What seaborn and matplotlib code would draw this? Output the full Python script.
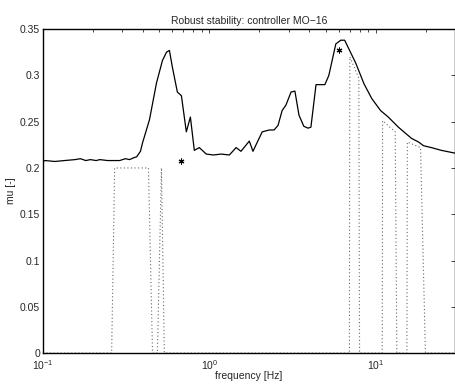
import numpy as np
import pandas as pd
import seaborn as sns
import matplotlib
matplotlib.use("Agg")
import matplotlib.pyplot as plt
from matplotlib.ticker import FuncFormatter, LogLocator

# upper bound of mu (solid line)
freq_upper = [0.1, 0.103, 0.118, 0.135, 0.156, 0.168, 0.181, 0.193, 0.209, 0.220,
              0.245, 0.27, 0.289, 0.314, 0.332, 0.351, 0.366, 0.386, 0.397, 0.437,
              0.482, 0.523, 0.553, 0.576, 0.600, 0.643, 0.680, 0.728, 0.770, 0.813,
              0.871, 0.959, 1.057, 1.18, 1.32, 1.45, 1.55, 1.74, 1.83, 2.08,
              2.29, 2.45, 2.59, 2.74, 2.89, 3.10, 3.27, 3.46, 3.70, 3.92,
              4.08, 4.38, 4.95, 5.23, 5.76, 6.17, 6.51, 7.6, 8.5, 9.47,
              10.7, 11.9, 13.7, 16.4, 18.1, 19.4, 21.6, 24.8, 30.0]
mu_upper = [0.207, 0.208, 0.207, 0.208, 0.209, 0.210, 0.208, 0.209, 0.208, 0.209,
            0.208, 0.208, 0.208, 0.210, 0.209, 0.211, 0.212, 0.218, 0.227, 0.252,
            0.292, 0.316, 0.325, 0.327, 0.309, 0.282, 0.278, 0.239, 0.255, 0.219,
            0.222, 0.215, 0.214, 0.215, 0.214, 0.222, 0.218, 0.229, 0.218, 0.239,
            0.241, 0.241, 0.246, 0.262, 0.268, 0.282, 0.283, 0.257, 0.245, 0.243,
            0.244, 0.290, 0.290, 0.300, 0.334, 0.338, 0.338, 0.313, 0.291, 0.275,
            0.262, 0.255, 0.244, 0.232, 0.228, 0.224, 0.222, 0.219, 0.216]

# lower bound of mu (dotted line)
freq_lower = [0.1, 0.259, 0.27, 0.431, 0.456, 0.488, 0.516, 0.537,
              6.95, 6.99, 7.92, 8.0, 10.95, 11.0, 13.1, 13.4,
              15.4, 15.5, 18.6, 19.9, 30.0]
mu_lower = [0.0, 0.0, 0.2, 0.2, 0.0, 0.0, 0.2, 0.0,
            0.0, 0.32, 0.297, 0.0, 0.0, 0.251, 0.239, 0.0,
            0.0, 0.228, 0.222, 0.0, 0.0]

# worst-case points (asterisks)
freq_star = [0.68, 6.0]
mu_star = [0.207, 0.327]

upper_df = pd.DataFrame({"freq": freq_upper, "mu": mu_upper})
lower_df = pd.DataFrame({"freq": freq_lower, "mu": mu_lower})
star_df = pd.DataFrame({"freq": freq_star, "mu": mu_star})

sns.set_style("white")
plt.rcParams['font.family'] = ['Liberation Sans', 'DejaVu Sans']
plt.rcParams['xtick.direction'] = 'in'
plt.rcParams['ytick.direction'] = 'in'

fig = plt.figure(figsize=(4.56, 3.88), dpi=100)
ax = fig.add_axes([0.094, 0.090, 0.904, 0.835])

sns.lineplot(data=lower_df, x="freq", y="mu", ax=ax, color="#666666",
             linestyle=(0, (1, 2.2)), linewidth=0.8, sort=False, estimator=None)
sns.lineplot(data=upper_df, x="freq", y="mu", ax=ax, color="black",
             linewidth=0.9, sort=False, estimator=None)
sns.scatterplot(data=star_df, x="freq", y="mu", ax=ax, marker=(6, 2, 0),
                color="black", s=13, linewidth=0.8, edgecolor="black")

ax.set_xscale("log")
ax.set_xlim(0.1, 30)
ax.set_ylim(0, 0.35)
ax.set_yticks(np.arange(0, 0.351, 0.05))
ax.yaxis.set_major_formatter(FuncFormatter(lambda v, p: "%g" % round(v, 2)))
ax.xaxis.set_minor_locator(LogLocator(base=10, subs=np.arange(2, 10)))
ax.tick_params(which="both", top=True, right=True, labelsize=7.5,
               length=3, width=0.6, pad=2)
ax.tick_params(axis="x", which="major", pad=4)
ax.tick_params(which="minor", length=2)
for s in ax.spines.values():
    s.set_linewidth(1.0)
    s.set_color("black")
    s.set_zorder(5)

ax.set_xlabel("frequency [Hz]", fontsize=7.5, labelpad=-1)
ax.set_ylabel("mu [-]", fontsize=7.5, labelpad=3)
ax.set_title("Robust stability: controller MO\u221216", fontsize=7.5, pad=4)

fig.savefig("out.png", dpi=100)
